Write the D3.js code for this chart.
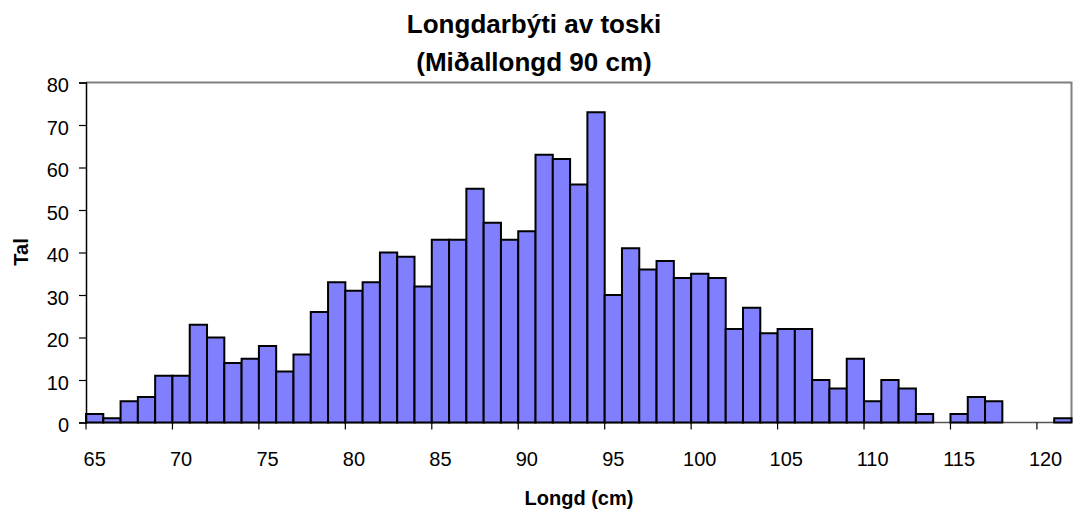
<!DOCTYPE html>
<html>
<head>
<meta charset="utf-8">
<script src="https://cdn.jsdelivr.net/npm/d3@7"></script>
<style>
  html, body { margin: 0; padding: 0; background: #fff; }
  svg { display: block; font-family: "Liberation Sans", Arial, sans-serif; }
</style>
</head>
<body>
<script>
const titleLines = ["Longdarbýti av toski", "(Miðallongd 90 cm)"];
const xTitle = "Longd (cm)";
const yTitle = "Tal";
const lengths = d3.range(65, 122);
const counts = [2, 1, 5, 6, 11, 11, 23, 20, 14, 15, 18, 12, 16, 26, 33, 31, 33, 40, 39, 32,
                43, 43, 55, 47, 43, 45, 63, 62, 56, 73, 30, 41, 36, 38, 34, 35, 34, 22, 27, 21,
                22, 22, 10, 8, 15, 5, 10, 8, 2, 0, 2, 6, 5, 0, 0, 0, 1];
const xTickValues = [65, 70, 75, 80, 85, 90, 95, 100, 105, 110, 115, 120];
const yTickValues = [0, 10, 20, 30, 40, 50, 60, 70, 80];

const W = 1074, H = 513;
const pLeft = 86, pRight = 1071.5, pTop = 82.5, pBottom = 422.5;

const svg = d3.select("body").append("svg").attr("width", W).attr("height", H);

const x = d3.scaleBand().domain(lengths).range([pLeft, pRight]).padding(0);
const y = d3.scaleLinear().domain([0, 80]).range([pBottom, pTop]);

// plot border (top & right gray)
svg.append("path")
  .attr("d", `M${pLeft},${pTop}H${pRight}V${pBottom}`)
  .attr("fill", "none").attr("stroke", "#808080").attr("stroke-width", 2);

// x baseline
svg.append("line").attr("x1", pLeft).attr("x2", pRight).attr("y1", pBottom).attr("y2", pBottom)
  .attr("stroke", "#555").attr("stroke-width", 1.5);

// bars
svg.append("g").selectAll("rect")
  .data(lengths.map((l, i) => ({ l, v: counts[i] })).filter(d => d.v > 0))
  .join("rect")
  .attr("x", d => x(d.l))
  .attr("y", d => y(d.v))
  .attr("width", x.bandwidth())
  .attr("height", d => y(0) - y(d.v))
  .attr("fill", "#8080FF")
  .attr("stroke", "#000")
  .attr("stroke-width", 2);

// y axis
const yAxis = d3.axisLeft(y).tickValues(yTickValues).tickSize(7).tickPadding(10);
const gy = svg.append("g").attr("transform", `translate(${pLeft},0)`).call(yAxis);
gy.select(".domain").attr("stroke", "#000").attr("stroke-width", 1.5);
gy.selectAll(".tick line").attr("stroke", "#000").attr("stroke-width", 1.2);
gy.selectAll(".tick text").attr("font-size", 20).attr("fill", "#000")
  .attr("font-family", "Liberation Sans, Arial, sans-serif").attr("dy", "0.45em");

// x ticks at category boundaries, labels centered on categories
const gx = svg.append("g");
gx.selectAll("line.xt").data(xTickValues).join("line")
  .attr("x1", d => x(d)).attr("x2", d => x(d))
  .attr("y1", pBottom).attr("y2", pBottom + 7)
  .attr("stroke", "#000").attr("stroke-width", 1.2);
gx.selectAll("text.xl").data(xTickValues).join("text")
  .attr("x", d => x(d) + x.bandwidth() / 2)
  .attr("y", pBottom + 43)
  .attr("text-anchor", "middle")
  .attr("font-size", 20)
  .text(d => d);

// titles
svg.append("g").selectAll("text").data(titleLines).join("text")
  .attr("x", 534).attr("y", (d, i) => 33 + i * 38)
  .attr("text-anchor", "middle")
  .attr("font-size", 26).attr("font-weight", "bold")
  .text(d => d);

svg.append("text")
  .attr("x", 579).attr("y", 505)
  .attr("text-anchor", "middle")
  .attr("font-size", 20).attr("font-weight", "bold")
  .text(xTitle);

svg.append("text")
  .attr("transform", "translate(28,252) rotate(-90)")
  .attr("text-anchor", "middle")
  .attr("font-size", 20).attr("font-weight", "bold")
  .text(yTitle);
</script>
</body>
</html>
